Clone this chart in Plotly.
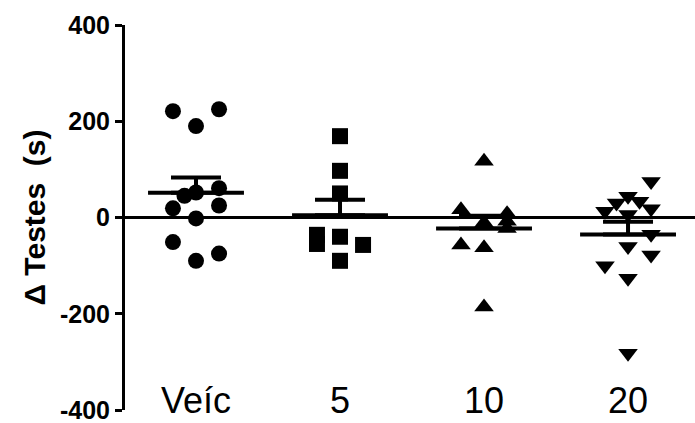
import numpy as np
import plotly.graph_objects as go

# Groups and individual responses (seconds)
categories = ["Veíc", "5", "10", "20"]
veic = [221, 225, 190, 45, 52, 61, 19, 25, -2, -51, -90, -75]
dose5 = [169, 97, 50, -36, -55, -40, -57, -90]
dose10 = [117, 16, -11, 8, -8, -23, -57, -63, -186]
dose20 = [75, 44, 30, 34, 13, 18, 6, -35, -60, -78, -100, -126, -282]

# horizontal scatter offsets so overlapping points stay visible
jit_veic = [-0.16, 0.16, 0, -0.08, 0, 0.16, -0.16, 0.16, 0, -0.16, 0, 0.16]
jit_5 = [0, 0, 0, -0.16, -0.16, 0, 0.16, 0]
jit_10 = [0, -0.16, 0, 0.16, 0.16, 0.16, -0.16, 0, 0]
jit_20 = [0.16, 0, -0.08, 0.08, -0.16, 0.16, 0, 0.16, 0, 0.16, -0.16, 0, 0]

ytick_vals = [-400, -200, 0, 200, 400]
ytick_text = ["-400", "-200", "0", "200", "400"]

groups = [veic, dose5, dose10, dose20]
offsets = [jit_veic, jit_5, jit_10, jit_20]
symbols = ["circle", "square", "triangle-up", "triangle-down"]
sizes = [16, 16, 17, 17]

fig = go.Figure()

for i, (vals, offs, sym, sz) in enumerate(zip(groups, offsets, symbols, sizes)):
    v = np.array(vals, dtype=float)
    xs = [i + o for o in offs]
    fig.add_trace(go.Scatter(
        x=xs, y=v, mode="markers",
        marker=dict(symbol=sym, size=sz, color="black", line=dict(width=0)),
        showlegend=False, hoverinfo="skip",
    ))
    mean = v.mean()
    sem = v.std(ddof=1) / np.sqrt(len(v))
    # mean bar
    fig.add_trace(go.Scatter(
        x=[i - 0.333, i + 0.333], y=[mean, mean], mode="lines",
        line=dict(color="black", width=4),
        showlegend=False, hoverinfo="skip",
    ))
    # upper SEM whisker
    fig.add_trace(go.Scatter(
        x=[i], y=[mean], mode="markers",
        marker=dict(size=1, color="rgba(0,0,0,0)"),
        error_y=dict(type="data", symmetric=False, array=[sem], arrayminus=[0],
                     color="black", thickness=4, width=25),
        showlegend=False, hoverinfo="skip",
    ))

fig.update_layout(
    width=695, height=423,
    margin=dict(l=125, r=0, t=25, b=13),
    paper_bgcolor="white", plot_bgcolor="white",
    font=dict(family="Liberation Sans, Arial, sans-serif", color="black"),
    xaxis=dict(
        range=[-0.493, 3.465],
        tickvals=list(range(len(categories))), ticktext=categories,
        tickfont=dict(size=36),
        showgrid=False, showline=False, zeroline=False, ticks="",
        anchor="free", position=0.088, automargin=False,
        ticklabeloverflow="allow",
    ),
    yaxis=dict(
        range=[-400, 400],
        tickvals=ytick_vals, ticktext=ytick_text,
        tickfont=dict(size=25, weight="bold"),
        showgrid=False, automargin=False, ticklabeloverflow="allow",
        showline=True, linecolor="black", linewidth=3,
        ticks="outside", ticklen=7, tickwidth=3, tickcolor="black",
        zeroline=True, zerolinecolor="black", zerolinewidth=3,
        title=dict(text="Δ Testes  (s)", font=dict(size=30, weight="bold"), standoff=6),
    ),
)

fig.write_html("out.html")
